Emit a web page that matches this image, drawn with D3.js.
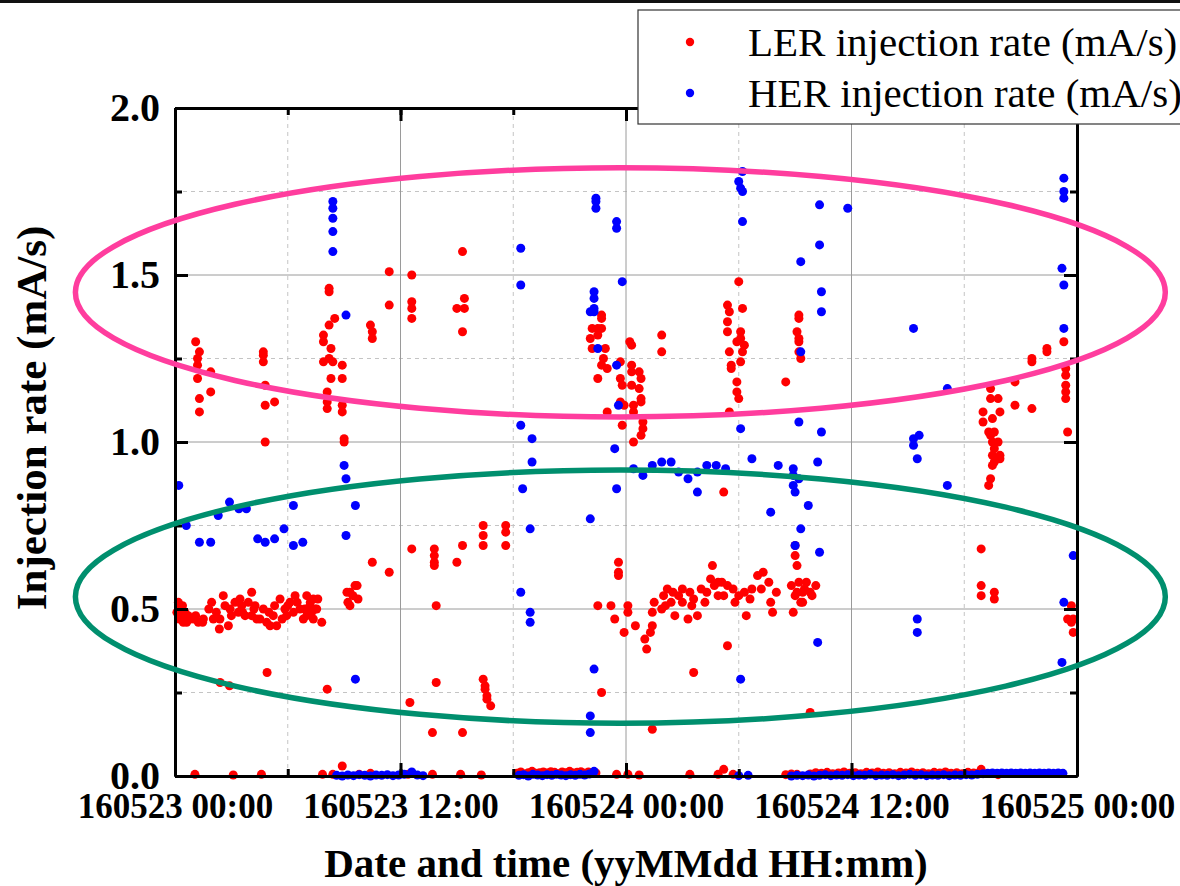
<!DOCTYPE html>
<html lang="en">
<head>
<meta charset="UTF-8">
<title>Injection rate</title>
<style>
  body { margin: 0; background: #fff; }
  svg { display: block; }
  text { font-family: "Liberation Serif", "Times New Roman", serif; }
</style>
</head>
<body>
<svg width="1180" height="886"></svg>
<script src="https://d3js.org/d3.v7.min.js"></script>
<script>

// hours after 160523 00:00, injection rate (mA/s)
const lerPoints = [
  // low band, first morning
  [0.10,0.49],[0.18,0.52],[0.22,0.47],[0.27,0.50],[0.35,0.48],[0.40,0.51],[0.44,0.46],[0.53,0.49],[0.62,0.46],[0.70,0.48],
  [0.80,0.47],[0.98,0.47],[1.10,0.48],[1.24,0.46],[1.47,0.46],[1.51,0.47],[1.80,0.50],[1.95,0.52],[2.04,0.47],[2.20,0.49],
  [2.36,0.44],[2.39,0.47],[2.57,0.54],[2.66,0.51],[2.84,0.45],[2.93,0.50],[3.00,0.48],[3.19,0.52],[3.37,0.49],[3.46,0.53],
  [3.55,0.51],[3.60,0.49],[3.73,0.48],[3.90,0.52],[4.08,0.55],[4.08,0.48],[4.20,0.50],[4.26,0.51],[4.35,0.47],[4.52,0.47],
  [4.70,0.50],[4.88,0.46],[5.00,0.49],[5.06,0.45],[5.23,0.48],[5.30,0.51],[5.41,0.45],[5.59,0.53],[5.70,0.47],[5.85,0.50],
  [5.94,0.48],[6.00,0.51],[6.12,0.52],[6.30,0.49],[6.39,0.54],[6.50,0.52],[6.65,0.50],[6.83,0.47],[6.90,0.50],[7.01,0.54],
  [7.01,0.48],[7.18,0.51],[7.20,0.52],[7.27,0.49],[7.36,0.53],[7.36,0.47],[7.45,0.50],[7.54,0.50],[7.60,0.53],[7.81,0.46],
  // upper band, 23rd
  [1.1,1.30],[1.3,1.27],[1.2,1.25],[1.2,1.23],[1.2,1.19],[1.3,1.13],[1.3,1.09],[1.9,1.21],[1.9,1.15],
  [4.7,1.27],[4.7,1.26],[4.7,1.24],[4.8,1.17],[4.8,1.11],[5.3,1.12],[4.8,1.00],
  [8.2,1.45],[8.2,1.46],[8.5,1.37],[8.2,1.35],[7.9,1.32],[7.9,1.30],[8.3,1.28],[8.2,1.25],[7.9,1.24],[8.4,1.24],
  [8.3,1.19],[8.1,1.15],[8.1,1.12],[8.1,1.10],[8.9,1.23],[8.9,1.19],[8.9,1.11],[8.9,1.09],[9.0,1.01],[9.0,1.00],
  [10.4,1.35],[10.5,1.33],[10.5,1.31],[11.4,1.41],[11.4,1.51],[12.6,1.50],[12.6,1.42],[12.6,1.40],[12.6,1.37],
  [15.0,1.40],[15.4,1.43],[15.4,1.40],[15.3,1.33],[15.3,1.57],
  // middle, 23rd
  [9.15,0.55],[9.31,0.55],[9.58,0.57],[9.69,0.57],[9.47,0.54],[9.74,0.53],[9.31,0.51],[9.2,0.52],
  [10.5,0.64],[11.4,0.61],[12.6,0.68],[13.8,0.68],[13.8,0.66],[13.8,0.64],[13.8,0.63],[15.0,0.64],[15.3,0.69],[13.9,0.51],
  [4.9,0.31],[2.4,0.28],[2.9,0.27],[8.1,0.26],[12.5,0.22],[13.9,0.28],[13.7,0.13],[15.3,0.13],
  [16.4,0.75],[16.4,0.72],[16.4,0.69],[17.6,0.75],[17.6,0.73],[17.6,0.69],
  [16.4,0.29],[16.5,0.27],[16.5,0.26],[16.6,0.24],[16.6,0.23],[16.8,0.21],
  // upper band, around midnight
  [22.7,1.38],[22.7,1.37],[22.2,1.34],[22.5,1.34],[22.7,1.34],[22.1,1.31],[22.5,1.32],[22.2,1.28],[22.9,1.28],[22.8,1.25],
  [22.7,1.23],[23.0,1.22],[22.5,1.19],[24.2,1.30],[24.3,1.29],[23.7,1.24],[24.3,1.23],[24.3,1.21],[24.7,1.21],[23.7,1.19],
  [24.8,1.19],[23.8,1.17],[24.3,1.17],[24.7,1.16],[24.8,1.13],[24.8,1.12],[23.7,1.12],[23.9,1.11],[24.4,1.11],[23.0,1.09],
  [24.4,1.09],[23.8,1.05],[24.9,1.06],[24.9,1.04],[24.8,1.02],[24.4,1.00],[25.9,1.32],[25.9,1.27],
  [30.0,1.48],[29.4,1.41],[29.5,1.39],[30.2,1.40],[29.4,1.36],[29.4,1.33],[30.1,1.33],[30.1,1.31],[29.9,1.30],[30.3,1.29],
  [29.5,1.27],[30.2,1.27],[30.1,1.24],[29.6,1.23],[29.6,1.22],[29.9,1.18],[29.9,1.15],[30.0,1.13],[29.5,1.09],
  [33.2,1.38],[33.2,1.37],[33.1,1.33],[33.2,1.31],[33.2,1.30],[33.2,1.27],[33.3,1.25],[32.5,1.18],
  // low band, 24th
  [23.6,0.64],[23.6,0.61],[23.6,0.60],[22.5,0.51],[23.2,0.51],[23.4,0.47],[24.1,0.51],[24.1,0.49],[23.9,0.43],[24.5,0.45],
  [25.0,0.41],[25.1,0.38],[25.3,0.43],[25.4,0.45],[25.4,0.49],[25.5,0.52],[25.9,0.50],[26.0,0.54],[26.1,0.51],[26.2,0.56],
  [26.4,0.52],[26.5,0.55],[26.6,0.48],[26.8,0.54],[27.0,0.52],[27.0,0.56],[27.3,0.47],[27.4,0.55],[27.5,0.51],[27.6,0.53],
  [27.8,0.48],[28.0,0.56],[28.2,0.52],[28.3,0.55],[28.5,0.59],[28.6,0.63],[28.7,0.57],[28.9,0.54],[28.9,0.58],[29.1,0.58],
  [29.2,0.54],[29.4,0.57],[29.7,0.56],[29.8,0.52],[30.0,0.54],[30.3,0.55],[30.4,0.48],[30.6,0.53],[30.7,0.56],[31.0,0.60],
  [31.2,0.56],[31.3,0.61],[31.6,0.58],[31.7,0.52],[31.8,0.49],[32.0,0.55],
  [29.4,0.39],[27.6,0.31],[22.7,0.25],[25.4,0.14],[29.2,0.85],
  [33.0,0.69],[33.0,0.66],[33.1,0.63],[32.8,0.57],[33.2,0.58],[33.4,0.55],[33.0,0.54],[33.3,0.52],[32.9,0.49],[33.1,0.55],
  [33.6,0.58],[34.1,0.57],[33.5,0.56],[33.8,0.55],[33.9,0.54],[33.4,0.52],[33.8,0.19],
  [42.9,0.68],[42.9,0.57],[42.9,0.54],[43.6,0.55],[43.6,0.53],[47.7,0.51],[47.5,0.47],[47.8,0.47],[47.7,0.46],[47.8,0.43],
  // rising band, evening of 24th
  [47.3,1.30],[47.4,1.22],[47.4,1.20],[47.4,1.17],[47.4,1.15],[47.4,1.13],[47.5,1.03],[46.4,1.28],[46.4,1.27],[45.6,1.25],
  [45.6,1.24],[44.7,1.18],[44.7,1.11],[45.6,1.10],[43.4,1.16],[43.8,1.13],[43.4,1.13],[43.9,1.09],[43.0,1.09],[43.0,1.06],
  [43.5,1.07],[43.3,1.03],[43.6,1.03],[43.4,1.02],[43.5,1.00],[43.8,1.00],[43.6,0.98],[43.9,0.96],[43.5,0.96],[43.9,0.95],
  [43.6,0.94],[43.5,0.93],[43.4,0.89],[43.3,0.87],
  // near zero
  [1.06,0.005],[3.1,0.003],[4.6,0.005],[7.85,0.005],[8.4,0.005],[8.9,0.03],[9.8,0.005],[10.4,0.008],[12.4,0.005],
  [13.7,0.005],[15.2,0.005],[16.3,0.003],
  [18.2,0.008],[18.4,0.012],[18.6,0.006],[18.8,0.010],[19.0,0.014],[19.2,0.008],[19.4,0.010],[19.6,0.012],[19.8,0.009],
  [20.0,0.013],[20.2,0.011],[20.4,0.007],[20.6,0.012],[20.8,0.010],[21.0,0.014],[21.2,0.009],[21.4,0.011],[21.6,0.013],
  [21.8,0.008],[22.0,0.012],[22.2,0.010],[22.4,0.009],
  [23.5,0.005],[24.1,0.005],[24.7,0.003],[27.4,0.005],[28.9,0.005],[29.2,0.02],[29.7,0.005],[32.5,0.004],[32.8,0.006],
  [33.1,0.005],[33.8,0.006],[34.1,0.010],[34.4,0.008],[34.7,0.011],[35.0,0.007],[35.3,0.009],[35.6,0.012],[35.9,0.008],
  [36.2,0.010],[36.5,0.007],[36.8,0.011],[37.1,0.009],[37.4,0.012],[37.7,0.008],[38.0,0.010],[38.3,0.007],[38.6,0.011],
  [38.9,0.009],[39.2,0.012],[39.5,0.008],[39.8,0.010],[40.1,0.007],[40.4,0.011],[40.7,0.009],[41.0,0.012],[41.3,0.008],
  [41.6,0.010],[41.9,0.007],[42.2,0.011],[42.5,0.009],[42.8,0.010],[42.9,0.02],[43.8,0.004]
];

const herPoints = [
  [0.2,0.87],[0.6,0.75],[1.3,0.70],[1.9,0.70],[2.3,0.78],[2.9,0.82],[3.4,0.80],[3.8,0.80],[4.4,0.71],[4.8,0.70],
  [5.3,0.71],[5.8,0.74],[6.3,0.81],[6.3,0.69],[6.8,0.70],[9.0,0.93],[9.1,0.89],[9.1,0.72],[9.6,0.81],[9.6,0.29],
  [8.4,1.72],[8.4,1.70],[8.4,1.67],[8.4,1.63],[8.4,1.57],[9.1,1.38],
  [18.4,1.58],[18.4,1.47],[22.4,1.73],[22.4,1.72],[22.4,1.70],[23.5,1.66],[23.5,1.64],[23.8,1.48],[22.3,1.45],[22.3,1.43],
  [22.3,1.40],[22.1,1.39],[22.3,1.39],[22.5,1.28],[23.5,1.23],[23.6,1.11],
  [30.2,1.81],[30.0,1.78],[30.1,1.76],[30.2,1.75],[30.2,1.66],
  [18.4,1.05],[19.0,1.01],[19.0,0.94],[23.4,0.98],[30.1,1.04],[30.7,0.95],[32.1,0.93],
  [18.5,0.86],[18.9,0.74],[18.4,0.55],[18.9,0.49],[18.9,0.46],[22.1,0.77],[22.3,0.32],[22.1,0.18],[22.1,0.13],[23.5,0.86],
  [24.4,0.92],[24.9,0.90],[25.4,0.93],[25.9,0.94],[26.4,0.94],[26.8,0.91],[27.3,0.89],[27.8,0.91],[27.8,0.85],[28.3,0.93],
  [28.8,0.93],[29.3,0.92],[31.7,0.79],[30.1,0.29],
  [34.3,1.71],[35.8,1.70],[34.3,1.59],[33.3,1.54],[34.4,1.45],[34.4,1.39],[33.3,1.27],[39.3,1.34],[41.1,1.16],
  [47.3,1.79],[47.3,1.75],[47.3,1.73],[47.2,1.52],[47.3,1.47],[47.3,1.34],
  [33.2,1.06],[34.4,1.03],[32.9,0.92],[34.2,0.94],[39.3,1.01],[39.6,1.02],[39.3,0.99],[39.5,0.95],
  [32.9,0.90],[33.2,0.89],[32.9,0.87],[33.0,0.85],[33.7,0.81],[33.3,0.74],[33.0,0.69],[34.3,0.67],[34.2,0.40],[41.1,0.87],
  [39.5,0.47],[39.5,0.43],[47.8,0.66],[47.3,0.52],[47.2,0.34],
  // near zero
  [8.6,0.002],[8.9,0.000],[9.2,0.003],[9.5,0.001],[9.8,0.004],[10.1,0.002],[10.4,0.000],[10.7,0.003],[11.0,0.002],
  [11.3,0.004],[11.6,0.001],[11.9,0.003],[12.2,0.005],[12.6,0.012],[12.9,0.003],[13.2,0.001],
  [18.3,0.002],[18.55,0.004],[18.8,0.000],[19.05,0.005],[19.3,0.003],[19.55,0.001],[19.8,0.004],[20.05,0.002],
  [20.3,0.005],[20.55,0.003],[20.8,0.001],[21.05,0.004],[21.3,0.002],[21.55,0.005],[21.8,0.003],[22.05,0.006],[22.3,0.014],
  [30.0,0.001],[30.5,0.002],[32.8,0.000],[33.1,0.002],[33.4,0.001],[33.7,0.003],[34.0,0.000],[34.3,0.002],[34.6,0.004],
  [34.9,0.001],[35.2,0.003],[35.5,0.002],[35.8,0.004],[36.1,0.001],[36.4,0.003],[36.7,0.002],[37.0,0.005],[37.3,0.001],
  [37.6,0.003],[37.9,0.002],[38.2,0.004],[38.5,0.001],[38.8,0.003],[39.1,0.005],[39.4,0.002],[39.7,0.004],[40.0,0.001],
  [40.3,0.003],[40.6,0.002],[40.9,0.004],[41.2,0.001],[41.5,0.003],[41.8,0.002],[42.1,0.004],[42.4,0.003],[42.7,0.005],
  [43.0,0.007],[43.25,0.008],[43.5,0.009],[43.75,0.008],[44.0,0.009],[44.25,0.008],[44.5,0.009],[44.75,0.008],[45.0,0.009],
  [45.25,0.008],[45.5,0.009],[45.75,0.008],[46.0,0.009],[46.25,0.008],[46.5,0.009],[46.75,0.008],[47.0,0.009],[47.25,0.008]
];

const seriesNames = ["LER injection rate (mA/s)", "HER injection rate (mA/s)"];
const seriesColors = ["#ff0000", "#0000ff"];

// hand-drawn groupings: centre (hour, rate) and half-widths (hours, rate)
const groupHour = [23.7, 23.7];
const groupRate = [1.448, 0.537];
const groupHalfHours = [29.0, 29.0];
const groupHalfRate = [0.373, 0.379];
const groupColors = ["#ff3d9e", "#008f6e"];

const t0 = new Date(2016, 4, 23, 0, 0);
const toDate = h => new Date(t0.getTime() + h * 3600e3);

const svg = d3.select("svg");
const plotLeft = 175, plotRight = 1077, plotTop = 108, plotBottom = 776;

const x = d3.scaleTime().domain([t0, toDate(48)]).range([plotLeft, plotRight]);
const y = d3.scaleLinear().domain([0, 2]).range([plotBottom, plotTop]);

svg.append("rect").attr("x", 0).attr("y", 0).attr("width", 1180).attr("height", 3).attr("fill", "#111");

// grid
const grid = svg.append("g");
const minorX = d3.timeHour.every(6).range(toDate(1), toDate(48)).filter(d => d.getHours() % 12 !== 0);
const majorX = d3.timeHour.every(12).range(toDate(1), toDate(48));
const minorY = [0.25, 0.75, 1.25, 1.75];
const majorY = [0.5, 1.0, 1.5];

grid.selectAll(".mx").data(minorX).join("line")
  .attr("x1", d => x(d)).attr("x2", d => x(d)).attr("y1", plotTop).attr("y2", plotBottom)
  .attr("stroke", "#c4c4c4").attr("stroke-dasharray", "4,4");
grid.selectAll(".my").data(minorY).join("line")
  .attr("x1", plotLeft).attr("x2", plotRight).attr("y1", d => y(d)).attr("y2", d => y(d))
  .attr("stroke", "#c4c4c4").attr("stroke-dasharray", "4,4");
grid.selectAll(".Mx").data(majorX).join("line")
  .attr("x1", d => x(d)).attr("x2", d => x(d)).attr("y1", plotTop).attr("y2", plotBottom)
  .attr("stroke", "#9a9a9a");
grid.selectAll(".My").data(majorY).join("line")
  .attr("x1", plotLeft).attr("x2", plotRight).attr("y1", d => y(d)).attr("y2", d => y(d))
  .attr("stroke", "#9a9a9a");

// points
[lerPoints, herPoints].forEach((pts, i) => {
  svg.append("g").selectAll("circle").data(pts).join("circle")
    .attr("cx", d => x(toDate(d[0])))
    .attr("cy", d => y(d[1]))
    .attr("r", 4.5)
    .attr("fill", seriesColors[i]);
});

// axes
function styleAxis(g) {
  g.select(".domain").attr("stroke", "#000").attr("stroke-width", 3);
  g.selectAll(".tick line").attr("stroke", "#000").attr("stroke-width", 3);
}
const fmt = d3.timeFormat("%y%m%d %H:%M");
const serif = "'Liberation Serif', 'Times New Roman', serif";

const gx = svg.append("g").attr("transform", `translate(0,${plotBottom})`)
  .call(d3.axisBottom(x).ticks(d3.timeHour.every(12)).tickFormat(fmt)
    .tickSizeInner(-13).tickSizeOuter(0).tickPadding(17));
svg.append("g").attr("transform", `translate(0,${plotBottom})`)
  .call(d3.axisBottom(x).ticks(d3.timeHour.every(6)).tickFormat("").tickSizeInner(-7).tickSizeOuter(0)).call(styleAxis);
gx.call(styleAxis);
gx.selectAll("text").attr("font-size", 35).attr("font-weight", "bold").attr("fill", "#000")
  .style("font-family", serif);

svg.append("g").attr("transform", `translate(0,${plotTop})`)
  .call(d3.axisTop(x).ticks(d3.timeHour.every(12)).tickFormat("").tickSizeInner(-13).tickSizeOuter(0)).call(styleAxis);
svg.append("g").attr("transform", `translate(0,${plotTop})`)
  .call(d3.axisTop(x).ticks(d3.timeHour.every(6)).tickFormat("").tickSizeInner(-7).tickSizeOuter(0)).call(styleAxis);

const gy = svg.append("g").attr("transform", `translate(${plotLeft},0)`)
  .call(d3.axisLeft(y).tickValues([0, 0.5, 1, 1.5, 2]).tickFormat(d3.format(".1f"))
    .tickSizeInner(-13).tickSizeOuter(0).tickPadding(15));
gy.call(styleAxis);
gy.selectAll("text").attr("font-size", 40).attr("font-weight", "bold").attr("fill", "#000")
  .style("font-family", serif);
svg.append("g").attr("transform", `translate(${plotLeft},0)`)
  .call(d3.axisLeft(y).tickValues(minorY).tickFormat("").tickSizeInner(-7).tickSizeOuter(0)).call(styleAxis);

svg.append("g").attr("transform", `translate(${plotRight},0)`)
  .call(d3.axisRight(y).tickValues([0, 0.5, 1, 1.5, 2]).tickFormat("").tickSizeInner(-13).tickSizeOuter(0)).call(styleAxis);
svg.append("g").attr("transform", `translate(${plotRight},0)`)
  .call(d3.axisRight(y).tickValues(minorY).tickFormat("").tickSizeInner(-7).tickSizeOuter(0)).call(styleAxis);

// axis titles
svg.append("text")
  .attr("x", (plotLeft + plotRight) / 2).attr("y", 877)
  .attr("text-anchor", "middle").attr("font-size", 41).attr("font-weight", "bold")
  .text("Date and time (yyMMdd HH:mm)");
svg.append("text")
  .attr("transform", `translate(46,418) rotate(-90)`)
  .attr("text-anchor", "middle").attr("font-size", 43).attr("font-weight", "bold")
  .text("Injection rate (mA/s)");

// groupings
groupHour.forEach((h, i) => {
  const cx = x(toDate(h)), cy = y(groupRate[i]);
  svg.append("ellipse")
    .attr("cx", cx).attr("cy", cy)
    .attr("rx", x(toDate(h + groupHalfHours[i])) - cx)
    .attr("ry", y(groupRate[i] - groupHalfRate[i]) - cy)
    .attr("fill", "none").attr("stroke", groupColors[i]).attr("stroke-width", 5.5);
});

// legend
const legend = svg.append("g");
legend.append("rect").attr("x", 638).attr("y", 10).attr("width", 600).attr("height", 114)
  .attr("fill", "#fff").attr("stroke", "#333").attr("stroke-width", 1.2);
seriesNames.forEach((name, i) => {
  legend.append("circle").attr("cx", 690).attr("cy", 42 + i * 51).attr("r", 4.2).attr("fill", seriesColors[i]);
  legend.append("text").attr("x", 748).attr("y", 56 + i * 51)
    .attr("font-size", 41).text(name);
});

</script>
</body>
</html>
